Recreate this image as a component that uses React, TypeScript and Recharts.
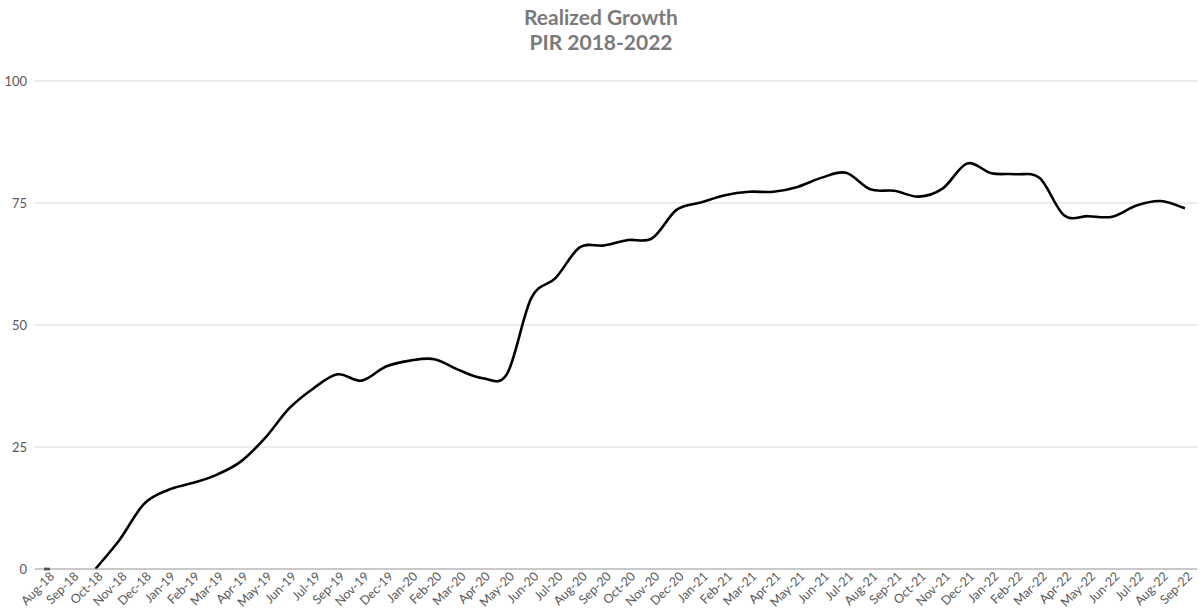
import React from "react";
import { LineChart, Line, XAxis, YAxis, CartesianGrid } from "recharts";

const months: string[] = [
  "Aug-18", "Sep-18", "Oct-18", "Nov-18", "Dec-18",
  "Jan-19", "Feb-19", "Mar-19", "Apr-19", "May-19", "Jun-19", "Jul-19", "Sep-19", "Nov-19", "Dec-19",
  "Jan-20", "Feb-20", "Mar-20", "Apr-20", "May-20", "Jun-20", "Jul-20", "Aug-20", "Sep-20", "Oct-20", "Nov-20", "Dec-20",
  "Jan-21", "Feb-21", "Mar-21", "Apr-21", "May-21", "Jun-21", "Jul-21", "Aug-21", "Sep-21", "Oct-21", "Nov-21", "Dec-21",
  "Jan-22", "Feb-22", "Mar-22", "Apr-22", "May-22", "Jun-22", "Jul-22", "Aug-22", "Sep-22",
];

const growth: (number | null)[] = [
  0, null, 0, 6, 13.3,
  16.2, 17.6, 19.3, 22, 26.8, 32.9, 37, 39.9, 38.6, 41.5,
  42.7, 43, 40.8, 39.1, 40, 55.5, 59.6, 65.9, 66.3, 67.4, 67.8, 73.6,
  75.1, 76.6, 77.3, 77.3, 78.3, 80.2, 81.2, 77.8, 77.5, 76.3, 78, 83.1,
  81.1, 80.9, 80.1, 72.5, 72.3, 72.2, 74.5, 75.4, 73.9,
];

const yTicks: number[] = [0, 25, 50, 75, 100];

const data = months.map((m, i) => ({ month: m, value: growth[i] }));

// Excel-style smoothed line (Catmull-Rom Bezier through every point)
const excelCurve = (context: any) => {
  let pts: number[][] = [];
  return {
    areaStart() {},
    areaEnd() {},
    lineStart() {
      pts = [];
    },
    point(x: number, y: number) {
      pts.push([+x, +y]);
    },
    lineEnd() {
      if (!pts.length) return;
      if (pts.length === 1) {
        context.moveTo(pts[0][0] - 3, pts[0][1]);
        context.lineTo(pts[0][0] + 3, pts[0][1]);
        return;
      }
      context.moveTo(pts[0][0], pts[0][1]);
      for (let i = 0; i < pts.length - 1; i++) {
        const p0 = pts[i - 1] || pts[i];
        const p1 = pts[i];
        const p2 = pts[i + 1];
        const p3 = pts[i + 2] || pts[i + 1];
        context.bezierCurveTo(
          p1[0] + (p2[0] - p0[0]) / 6,
          p1[1] + (p2[1] - p0[1]) / 6,
          p2[0] - (p3[0] - p1[0]) / 6,
          p2[1] - (p3[1] - p1[1]) / 6,
          p2[0],
          p2[1]
        );
      }
    },
  };
};

const FONT = "Lato, 'Open Sans', sans-serif";

const XTick = (props: any) => {
  const { x, y, payload } = props;
  return (
    <g transform={`translate(${x + 5},${y - 3})`}>
      <text
        transform="rotate(-45)"
        textAnchor="end"
        dy="0.35em"
        fill="#595959"
        fontSize={12.5}
        fontFamily={FONT}
      >
        {payload.value}
      </text>
    </g>
  );
};

export default function App() {
  return (
    <div
      style={{
        position: "absolute",
        left: 0,
        top: 0,
        width: 1202,
        height: 612,
        background: "#fff",
        fontFamily: FONT,
      }}
    >
      <div
        style={{
          position: "absolute",
          left: 0,
          top: 4,
          width: 1202,
          textAlign: "center",
          color: "#7a7a7a",
          fontWeight: 700,
          fontSize: 21,
          lineHeight: "25px",
        }}
      >
        <div>Realized Growth</div>
        <div>PIR 2018-2022</div>
      </div>
      <LineChart
        width={1202}
        height={612}
        data={data}
        margin={{ top: 81, right: 5, bottom: 0, left: 0 }}
      >
        <CartesianGrid vertical={false} stroke="#d9d9d9" />
        <XAxis
          dataKey="month"
          interval={0}
          height={43}
          padding={{ left: 12, right: 12 }}
          tickLine={false}
          axisLine={{ stroke: "#a6a6a6", strokeWidth: 1.2 }}
          tick={<XTick />}
        />
        <YAxis
          width={35}
          domain={[0, 100]}
          ticks={yTicks}
          axisLine={false}
          tickLine={false}
          tick={{ fill: "#595959", fontSize: 13, fontFamily: FONT }}
        />
        <Line
          type={excelCurve as any}
          dataKey="value"
          stroke="#000"
          strokeWidth={2.6}
          dot={false}
          activeDot={false}
          connectNulls={false}
          isAnimationActive={false}
        />
      </LineChart>
    </div>
  );
}
